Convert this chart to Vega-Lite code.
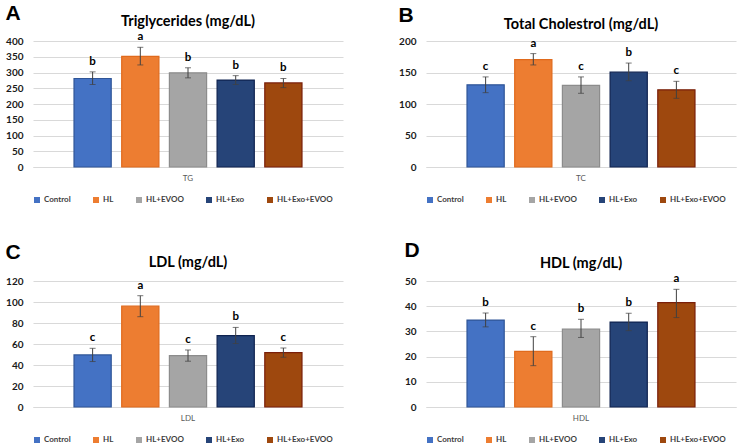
{
  "$schema": "https://vega.github.io/schema/vega-lite/v6.json",
  "padding": {"left": 5, "top": 2, "right": 5, "bottom": 2},
  "background": "white",
  "data": {"values": [
    {"panel": "A", "test": "TG", "group": "Control", "mean": 281, "lo": 262, "hi": 302, "letter": "b"},
    {"panel": "A", "test": "TG", "group": "HL", "mean": 351, "lo": 324, "hi": 380, "letter": "a"},
    {"panel": "A", "test": "TG", "group": "HL+EVOO", "mean": 299, "lo": 283, "hi": 315, "letter": "b"},
    {"panel": "A", "test": "TG", "group": "HL+Exo", "mean": 276, "lo": 262, "hi": 290, "letter": "b"},
    {"panel": "A", "test": "TG", "group": "HL+Exo+EVOO", "mean": 267, "lo": 252, "hi": 281, "letter": "b"},
    {"panel": "B", "test": "TC", "group": "Control", "mean": 130.5, "lo": 118, "hi": 143, "letter": "c"},
    {"panel": "B", "test": "TC", "group": "HL", "mean": 170.5, "lo": 162, "hi": 180, "letter": "a"},
    {"panel": "B", "test": "TC", "group": "HL+EVOO", "mean": 129.5, "lo": 117, "hi": 143, "letter": "c"},
    {"panel": "B", "test": "TC", "group": "HL+Exo", "mean": 150.5, "lo": 137, "hi": 165, "letter": "b"},
    {"panel": "B", "test": "TC", "group": "HL+Exo+EVOO", "mean": 122.5, "lo": 109, "hi": 136, "letter": "c"},
    {"panel": "C", "test": "LDL", "group": "Control", "mean": 49.6, "lo": 43.3, "hi": 55.9, "letter": "c"},
    {"panel": "C", "test": "LDL", "group": "HL", "mean": 96, "lo": 86, "hi": 106, "letter": "a"},
    {"panel": "C", "test": "LDL", "group": "HL+EVOO", "mean": 49, "lo": 43.6, "hi": 54.3, "letter": "c"},
    {"panel": "C", "test": "LDL", "group": "HL+Exo", "mean": 68, "lo": 60.5, "hi": 75.8, "letter": "b"},
    {"panel": "C", "test": "LDL", "group": "HL+Exo+EVOO", "mean": 51.8, "lo": 47.4, "hi": 56.2, "letter": "c"},
    {"panel": "D", "test": "HDL", "group": "Control", "mean": 34.5, "lo": 31.8, "hi": 37.3, "letter": "b"},
    {"panel": "D", "test": "HDL", "group": "HL", "mean": 22.1, "lo": 16.4, "hi": 27.9, "letter": "c"},
    {"panel": "D", "test": "HDL", "group": "HL+EVOO", "mean": 30.9, "lo": 27.6, "hi": 34.8, "letter": "b"},
    {"panel": "D", "test": "HDL", "group": "HL+Exo", "mean": 33.7, "lo": 30.3, "hi": 37.2, "letter": "b"},
    {"panel": "D", "test": "HDL", "group": "HL+Exo+EVOO", "mean": 41.4, "lo": 35.5, "hi": 46.7, "letter": "a"}
  ]},
  "columns": 2,
  "spacing": {"column": 55, "row": 35},
  "resolve": {"scale": {"y": "independent", "x": "independent", "xOffset": "independent"}, "legend": {"fill": "independent"}},
  "concat": [
    {
      "title": {"text": "A", "anchor": "start", "frame": "bounds", "fontSize": 21, "font": "Liberation Sans", "fontWeight": "bold", "color": "#000000", "offset": -10},
      "vconcat": [{
        "title": {"text": "Triglycerides (mg/dL)", "offset": 2},
        "width": 310, "height": 126,
        "transform": [{"filter": "datum.panel === 'A'"}],
        "encoding": {
          "x": {"field": "test", "type": "nominal", "title": null, "scale": {"paddingInner": 0, "paddingOuter": 0.15}},
          "xOffset": {"field": "group", "type": "nominal", "sort": null, "scale": {"paddingInner": 0.22, "paddingOuter": 0.11}}
        },
        "layer": [
          {"mark": {"type": "bar", "strokeWidth": 1.2},
           "encoding": {
             "y": {"field": "mean", "type": "quantitative", "title": null, "scale": {"domain": [0, 400]}, "axis": {"values": [0, 50, 100, 150, 200, 250, 300, 350, 400]}},
             "fill": {"field": "group", "type": "nominal", "sort": null, "title": null, "scale": {"domain": ["Control", "HL", "HL+EVOO", "HL+Exo", "HL+Exo+EVOO"], "range": ["#4472C4", "#ED7D31", "#A5A5A5", "#264478", "#9E480E"]}},
             "stroke": {"field": "group", "type": "nominal", "sort": null, "legend": null, "scale": {"domain": ["Control", "HL", "HL+EVOO", "HL+Exo", "HL+Exo+EVOO"], "range": ["#2F5597", "#E06A1C", "#8C8C8C", "#0F2350", "#7A1F0A"]}}
           }},
          {"mark": {"type": "rule", "color": "#404040", "strokeWidth": 1},
           "encoding": {"y": {"field": "lo", "type": "quantitative", "title": null, "axis": {"values": [0, 50, 100, 150, 200, 250, 300, 350, 400]}}, "y2": {"field": "hi"}}},
          {"mark": {"type": "tick", "color": "#404040", "orient": "horizontal", "size": 6, "thickness": 1},
           "encoding": {"y": {"field": "lo", "type": "quantitative", "title": null, "axis": {"values": [0, 50, 100, 150, 200, 250, 300, 350, 400]}}}},
          {"mark": {"type": "tick", "color": "#404040", "orient": "horizontal", "size": 6, "thickness": 1},
           "encoding": {"y": {"field": "hi", "type": "quantitative", "title": null, "axis": {"values": [0, 50, 100, 150, 200, 250, 300, 350, 400]}}}},
          {"mark": {"type": "text", "font": "Lato", "fontWeight": "bold", "fontSize": 11.5, "baseline": "alphabetic", "dy": -7, "color": "#000000"},
           "encoding": {"y": {"field": "hi", "type": "quantitative", "title": null, "axis": {"values": [0, 50, 100, 150, 200, 250, 300, 350, 400]}}, "text": {"field": "letter"}}}
        ]
      }]
    },
    {
      "title": {"text": "B", "anchor": "start", "frame": "bounds", "fontSize": 21, "font": "Liberation Sans", "fontWeight": "bold", "color": "#000000", "offset": -9},
      "vconcat": [{
        "title": {"text": "Total Cholestrol (mg/dL)", "offset": 4},
        "width": 310, "height": 126,
        "transform": [{"filter": "datum.panel === 'B'"}],
        "encoding": {
          "x": {"field": "test", "type": "nominal", "title": null, "scale": {"paddingInner": 0, "paddingOuter": 0.15}},
          "xOffset": {"field": "group", "type": "nominal", "sort": null, "scale": {"paddingInner": 0.22, "paddingOuter": 0.11}}
        },
        "layer": [
          {"mark": {"type": "bar", "strokeWidth": 1.2},
           "encoding": {
             "y": {"field": "mean", "type": "quantitative", "title": null, "scale": {"domain": [0, 200]}, "axis": {"values": [0, 50, 100, 150, 200]}},
             "fill": {"field": "group", "type": "nominal", "sort": null, "title": null, "scale": {"domain": ["Control", "HL", "HL+EVOO", "HL+Exo", "HL+Exo+EVOO"], "range": ["#4472C4", "#ED7D31", "#A5A5A5", "#264478", "#9E480E"]}},
             "stroke": {"field": "group", "type": "nominal", "sort": null, "legend": null, "scale": {"domain": ["Control", "HL", "HL+EVOO", "HL+Exo", "HL+Exo+EVOO"], "range": ["#2F5597", "#E06A1C", "#8C8C8C", "#0F2350", "#7A1F0A"]}}
           }},
          {"mark": {"type": "rule", "color": "#404040", "strokeWidth": 1},
           "encoding": {"y": {"field": "lo", "type": "quantitative", "title": null, "axis": {"values": [0, 50, 100, 150, 200]}}, "y2": {"field": "hi"}}},
          {"mark": {"type": "tick", "color": "#404040", "orient": "horizontal", "size": 6, "thickness": 1},
           "encoding": {"y": {"field": "lo", "type": "quantitative", "title": null, "axis": {"values": [0, 50, 100, 150, 200]}}}},
          {"mark": {"type": "tick", "color": "#404040", "orient": "horizontal", "size": 6, "thickness": 1},
           "encoding": {"y": {"field": "hi", "type": "quantitative", "title": null, "axis": {"values": [0, 50, 100, 150, 200]}}}},
          {"mark": {"type": "text", "font": "Lato", "fontWeight": "bold", "fontSize": 11.5, "baseline": "alphabetic", "dy": -7, "color": "#000000"},
           "encoding": {"y": {"field": "hi", "type": "quantitative", "title": null, "axis": {"values": [0, 50, 100, 150, 200]}}, "text": {"field": "letter"}}}
        ]
      }]
    },
    {
      "title": {"text": "C", "anchor": "start", "frame": "bounds", "fontSize": 21, "font": "Liberation Sans", "fontWeight": "bold", "color": "#000000", "offset": -8},
      "vconcat": [{
        "title": {"text": "LDL (mg/dL)", "offset": 6},
        "width": 310, "height": 126,
        "transform": [{"filter": "datum.panel === 'C'"}],
        "encoding": {
          "x": {"field": "test", "type": "nominal", "title": null, "scale": {"paddingInner": 0, "paddingOuter": 0.15}},
          "xOffset": {"field": "group", "type": "nominal", "sort": null, "scale": {"paddingInner": 0.22, "paddingOuter": 0.11}}
        },
        "layer": [
          {"mark": {"type": "bar", "strokeWidth": 1.2},
           "encoding": {
             "y": {"field": "mean", "type": "quantitative", "title": null, "scale": {"domain": [0, 120]}, "axis": {"values": [0, 20, 40, 60, 80, 100, 120]}},
             "fill": {"field": "group", "type": "nominal", "sort": null, "title": null, "scale": {"domain": ["Control", "HL", "HL+EVOO", "HL+Exo", "HL+Exo+EVOO"], "range": ["#4472C4", "#ED7D31", "#A5A5A5", "#264478", "#9E480E"]}},
             "stroke": {"field": "group", "type": "nominal", "sort": null, "legend": null, "scale": {"domain": ["Control", "HL", "HL+EVOO", "HL+Exo", "HL+Exo+EVOO"], "range": ["#2F5597", "#E06A1C", "#8C8C8C", "#0F2350", "#7A1F0A"]}}
           }},
          {"mark": {"type": "rule", "color": "#404040", "strokeWidth": 1},
           "encoding": {"y": {"field": "lo", "type": "quantitative", "title": null, "axis": {"values": [0, 20, 40, 60, 80, 100, 120]}}, "y2": {"field": "hi"}}},
          {"mark": {"type": "tick", "color": "#404040", "orient": "horizontal", "size": 6, "thickness": 1},
           "encoding": {"y": {"field": "lo", "type": "quantitative", "title": null, "axis": {"values": [0, 20, 40, 60, 80, 100, 120]}}}},
          {"mark": {"type": "tick", "color": "#404040", "orient": "horizontal", "size": 6, "thickness": 1},
           "encoding": {"y": {"field": "hi", "type": "quantitative", "title": null, "axis": {"values": [0, 20, 40, 60, 80, 100, 120]}}}},
          {"mark": {"type": "text", "font": "Lato", "fontWeight": "bold", "fontSize": 11.5, "baseline": "alphabetic", "dy": -7, "color": "#000000"},
           "encoding": {"y": {"field": "hi", "type": "quantitative", "title": null, "axis": {"values": [0, 20, 40, 60, 80, 100, 120]}}, "text": {"field": "letter"}}}
        ]
      }]
    },
    {
      "title": {"text": "D", "anchor": "start", "frame": "bounds", "fontSize": 21, "font": "Liberation Sans", "fontWeight": "bold", "color": "#000000", "offset": -5},
      "vconcat": [{
        "title": {"text": "HDL (mg/dL)", "offset": 2},
        "width": 310, "height": 126,
        "transform": [{"filter": "datum.panel === 'D'"}],
        "encoding": {
          "x": {"field": "test", "type": "nominal", "title": null, "scale": {"paddingInner": 0, "paddingOuter": 0.15}},
          "xOffset": {"field": "group", "type": "nominal", "sort": null, "scale": {"paddingInner": 0.22, "paddingOuter": 0.11}}
        },
        "layer": [
          {"mark": {"type": "bar", "strokeWidth": 1.2},
           "encoding": {
             "y": {"field": "mean", "type": "quantitative", "title": null, "scale": {"domain": [0, 50]}, "axis": {"values": [0, 10, 20, 30, 40, 50]}},
             "fill": {"field": "group", "type": "nominal", "sort": null, "title": null, "scale": {"domain": ["Control", "HL", "HL+EVOO", "HL+Exo", "HL+Exo+EVOO"], "range": ["#4472C4", "#ED7D31", "#A5A5A5", "#264478", "#9E480E"]}},
             "stroke": {"field": "group", "type": "nominal", "sort": null, "legend": null, "scale": {"domain": ["Control", "HL", "HL+EVOO", "HL+Exo", "HL+Exo+EVOO"], "range": ["#2F5597", "#E06A1C", "#8C8C8C", "#0F2350", "#7A1F0A"]}}
           }},
          {"mark": {"type": "rule", "color": "#404040", "strokeWidth": 1},
           "encoding": {"y": {"field": "lo", "type": "quantitative", "title": null, "axis": {"values": [0, 10, 20, 30, 40, 50]}}, "y2": {"field": "hi"}}},
          {"mark": {"type": "tick", "color": "#404040", "orient": "horizontal", "size": 6, "thickness": 1},
           "encoding": {"y": {"field": "lo", "type": "quantitative", "title": null, "axis": {"values": [0, 10, 20, 30, 40, 50]}}}},
          {"mark": {"type": "tick", "color": "#404040", "orient": "horizontal", "size": 6, "thickness": 1},
           "encoding": {"y": {"field": "hi", "type": "quantitative", "title": null, "axis": {"values": [0, 10, 20, 30, 40, 50]}}}},
          {"mark": {"type": "text", "font": "Lato", "fontWeight": "bold", "fontSize": 11.5, "baseline": "alphabetic", "dy": -7, "color": "#000000"},
           "encoding": {"y": {"field": "hi", "type": "quantitative", "title": null, "axis": {"values": [0, 10, 20, 30, 40, 50]}}, "text": {"field": "letter"}}}
        ]
      }]
    }
  ],
  "config": {
    "view": {"stroke": null},
    "font": "Lato",
    "title": {"font": "Lato", "fontSize": 14.5, "fontWeight": "bold", "color": "#000000", "anchor": "middle", "frame": "group", "offset": 4},
    "axisY": {"domain": false, "ticks": false, "grid": true, "gridColor": "#D9D9D9", "gridWidth": 1, "labelFont": "Lato", "labelFontSize": 10, "labelFontWeight": "bold", "labelColor": "#1a1a1a", "labelPadding": 10, "labelOverlap": false},
    "axisX": {"domain": true, "domainColor": "#D9D9D9", "ticks": false, "grid": false, "labelFont": "Lato", "labelFontSize": 8, "labelColor": "#595959", "labelAngle": 0, "labelPadding": 7},
    "legend": {"orient": "bottom", "direction": "horizontal", "columns": 5, "symbolType": "square", "symbolSize": 36, "symbolStrokeWidth": 0, "labelFont": "Lato", "labelFontSize": 8, "labelFontWeight": "bold", "labelColor": "#404040", "columnPadding": 21, "offset": 14, "labelOffset": 3}
  }
}
